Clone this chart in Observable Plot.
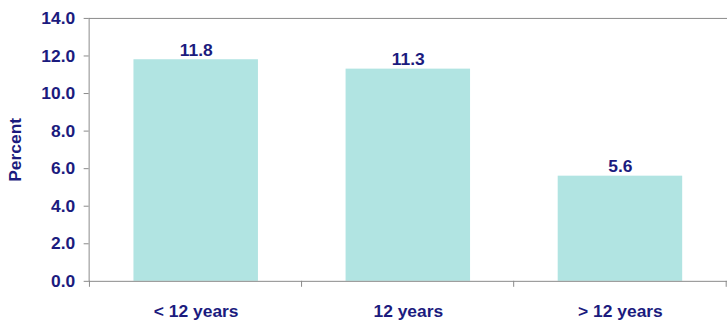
<!DOCTYPE html>
<html>
<head>
<meta charset="utf-8">
<script src="https://cdn.jsdelivr.net/npm/d3@7"></script>
<script src="https://cdn.jsdelivr.net/npm/@observablehq/plot@0.6"></script>
<style>
  html, body { margin: 0; padding: 0; background: #fff; overflow: hidden; }
  svg { font-family: "Liberation Sans", Arial, sans-serif; }
</style>
</head>
<body>
<div id="chart"></div>
<script>
const categories = ["< 12 years", "12 years", "> 12 years"];
const values = [11.8, 11.3, 5.6];
const yTicks = [0, 2, 4, 6, 8, 10, 12, 14];

const data = categories.map((c, i) => ({category: c, value: values[i]}));
const navy = "#1b1b7e";
const axisGray = "#8a8a8a";
const padInner = 0.415;
const fs = 17.5;

const chart = Plot.plot({
  width: 730,
  height: 325,
  marginLeft: 89,
  marginRight: 0,
  marginTop: 18,
  marginBottom: 43,
  style: {fontFamily: "'Liberation Sans', Arial, sans-serif", fontSize: fs + "px", fontWeight: "bold", color: navy, overflow: "visible"},
  x: {domain: categories, paddingInner: padInner, paddingOuter: padInner / 2, label: null},
  y: {domain: [0, 14], label: null},
  marks: [
    Plot.barY(data, {x: "category", y: "value", fill: "#b1e4e2"}),
    Plot.frame({anchor: "left", stroke: axisGray}),
    Plot.frame({anchor: "top", stroke: axisGray}),
    Plot.ruleY([0], {stroke: axisGray}),
    Plot.axisY({ticks: yTicks, tickFormat: d3.format(".1f"), tickSize: 5, tickPadding: 9, stroke: axisGray, fill: navy, fontSize: fs, fontWeight: "bold",
      label: "Percent", labelAnchor: "center", labelArrow: "none", labelOffset: 81}),
    Plot.axisX({tickSize: 0, tickPadding: 23, fill: navy, fontSize: fs, fontWeight: "bold", label: null}),
    Plot.text(data, {x: "category", y: "value", text: d => d3.format(".1f")(d.value), lineAnchor: "bottom", dy: -4, fill: navy, fontSize: fs, fontWeight: "bold"})
  ]
});

// category boundary ticks below the baseline, derived from the x scale
const xs = chart.scale("x");
const ys = chart.scale("y");
const step = xs.step;
const base = ys.apply(0);
const bounds = categories.map(c => xs.apply(c) - step * padInner / 2);
bounds.push(xs.apply(categories[categories.length - 1]) + xs.bandwidth + step * padInner / 2);
d3.select(chart).append("g")
  .selectAll("line").data(bounds).join("line")
  .attr("x1", d => d).attr("x2", d => d)
  .attr("y1", base).attr("y2", base + 6)
  .attr("stroke", axisGray);

document.getElementById("chart").appendChild(chart);
</script>
</body>
</html>
